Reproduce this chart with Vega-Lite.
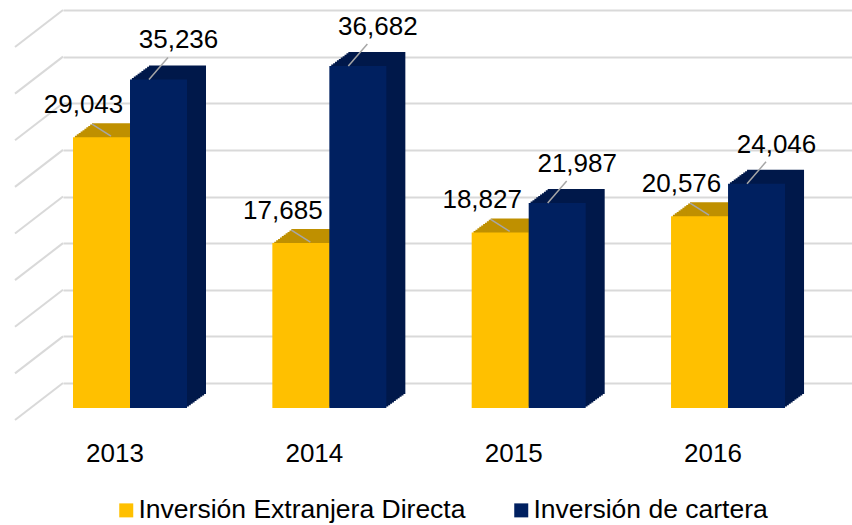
{
  "$schema": "https://vega.github.io/schema/vega-lite/v6.json",
  "width": 789,
  "height": 373,
  "autosize": {"type": "none"},
  "padding": {"left": 63, "top": 10, "right": 0, "bottom": 142},
  "background": "#ffffff",
  "config": {"view": {"stroke": null}, "font": "Liberation Sans"},
  "resolve": {"scale": {"xOffset": "independent"}},
  "data": {
    "values": [
      {"year": "2013", "series": "Inversión Extranjera Directa", "value": 29043},
      {"year": "2013", "series": "Inversión de cartera", "value": 35236},
      {"year": "2014", "series": "Inversión Extranjera Directa", "value": 17685},
      {"year": "2014", "series": "Inversión de cartera", "value": 36682},
      {"year": "2015", "series": "Inversión Extranjera Directa", "value": 18827},
      {"year": "2015", "series": "Inversión de cartera", "value": 21987},
      {"year": "2016", "series": "Inversión Extranjera Directa", "value": 20576},
      {"year": "2016", "series": "Inversión de cartera", "value": 24046}
    ]
  },
  "layer": [
    {
      "data": {"values": [{"g": 0}, {"g": 5000}, {"g": 10000}, {"g": 15000}, {"g": 20000}, {"g": 25000}, {"g": 30000}, {"g": 35000}, {"g": 40000}]},
      "mark": {"type": "rule", "color": "#D9D9D9", "strokeWidth": 2, "y2Offset": 37},
      "encoding": {
        "y": {"field": "g", "type": "quantitative", "title": null, "scale": {"domain": [0, 40000], "nice": false},
              "axis": {"title": null, "labels": false, "ticks": false, "domain": false, "grid": true, "gridColor": "#D9D9D9", "gridWidth": 2, "values": [0, 5000, 10000, 15000, 20000, 25000, 30000, 35000, 40000]}},
        "y2": {"field": "g"},
        "x": {"value": 0},
        "x2": {"value": -48}
      }
    },
    {
      "mark": {"type": "bar", "yOffset": 23.6, "y2Offset": 23.6},
      "encoding": {
        "x": {"field": "year", "type": "nominal", "title": null, "scale": {"domain": ["2013", "2014", "2015", "2016"], "paddingInner": 0.428, "paddingOuter": 0.193, "align": 0.13}},
        "xOffset": {"field": "series", "type": "nominal", "scale": {"domain": ["Inversión Extranjera Directa", "Inversión de cartera"], "range": [1.9, 115.9]}},
        "y": {"field": "value", "type": "quantitative", "title": null},
        "color": {"condition": {"test": "datum.series === 'Inversión Extranjera Directa'", "value": "#BF9000"}, "value": "#00184A"}
      }
    },
    {
      "mark": {"type": "bar", "yOffset": 22.2, "y2Offset": 22.2},
      "encoding": {
        "x": {"field": "year", "type": "nominal", "title": null},
        "xOffset": {"field": "series", "type": "nominal", "scale": {"domain": ["Inversión Extranjera Directa", "Inversión de cartera"], "range": [3.8, 117.8]}},
        "y": {"field": "value", "type": "quantitative", "title": null},
        "color": {"condition": {"test": "datum.series === 'Inversión Extranjera Directa'", "value": "#BF9000"}, "value": "#00184A"}
      }
    },
    {
      "mark": {"type": "bar", "yOffset": 20.8, "y2Offset": 20.8},
      "encoding": {
        "x": {"field": "year", "type": "nominal", "title": null},
        "xOffset": {"field": "series", "type": "nominal", "scale": {"domain": ["Inversión Extranjera Directa", "Inversión de cartera"], "range": [5.7, 119.7]}},
        "y": {"field": "value", "type": "quantitative", "title": null},
        "color": {"condition": {"test": "datum.series === 'Inversión Extranjera Directa'", "value": "#BF9000"}, "value": "#00184A"}
      }
    },
    {
      "mark": {"type": "bar", "yOffset": 19.4, "y2Offset": 19.4},
      "encoding": {
        "x": {"field": "year", "type": "nominal", "title": null},
        "xOffset": {"field": "series", "type": "nominal", "scale": {"domain": ["Inversión Extranjera Directa", "Inversión de cartera"], "range": [7.6, 121.6]}},
        "y": {"field": "value", "type": "quantitative", "title": null},
        "color": {"condition": {"test": "datum.series === 'Inversión Extranjera Directa'", "value": "#BF9000"}, "value": "#00184A"}
      }
    },
    {
      "mark": {"type": "bar", "yOffset": 18, "y2Offset": 18},
      "encoding": {
        "x": {"field": "year", "type": "nominal", "title": null},
        "xOffset": {"field": "series", "type": "nominal", "scale": {"domain": ["Inversión Extranjera Directa", "Inversión de cartera"], "range": [9.5, 123.5]}},
        "y": {"field": "value", "type": "quantitative", "title": null},
        "color": {"condition": {"test": "datum.series === 'Inversión Extranjera Directa'", "value": "#BF9000"}, "value": "#00184A"}
      }
    },
    {
      "mark": {"type": "bar", "yOffset": 16.6, "y2Offset": 16.6},
      "encoding": {
        "x": {"field": "year", "type": "nominal", "title": null},
        "xOffset": {"field": "series", "type": "nominal", "scale": {"domain": ["Inversión Extranjera Directa", "Inversión de cartera"], "range": [11.4, 125.4]}},
        "y": {"field": "value", "type": "quantitative", "title": null},
        "color": {"condition": {"test": "datum.series === 'Inversión Extranjera Directa'", "value": "#BF9000"}, "value": "#00184A"}
      }
    },
    {
      "mark": {"type": "bar", "yOffset": 15.2, "y2Offset": 15.2},
      "encoding": {
        "x": {"field": "year", "type": "nominal", "title": null},
        "xOffset": {"field": "series", "type": "nominal", "scale": {"domain": ["Inversión Extranjera Directa", "Inversión de cartera"], "range": [13.3, 127.3]}},
        "y": {"field": "value", "type": "quantitative", "title": null},
        "color": {"condition": {"test": "datum.series === 'Inversión Extranjera Directa'", "value": "#BF9000"}, "value": "#00184A"}
      }
    },
    {
      "mark": {"type": "bar", "yOffset": 13.8, "y2Offset": 13.8},
      "encoding": {
        "x": {"field": "year", "type": "nominal", "title": null},
        "xOffset": {"field": "series", "type": "nominal", "scale": {"domain": ["Inversión Extranjera Directa", "Inversión de cartera"], "range": [15.2, 129.2]}},
        "y": {"field": "value", "type": "quantitative", "title": null},
        "color": {"condition": {"test": "datum.series === 'Inversión Extranjera Directa'", "value": "#BF9000"}, "value": "#00184A"}
      }
    },
    {
      "mark": {"type": "bar", "yOffset": 12.4, "y2Offset": 12.4},
      "encoding": {
        "x": {"field": "year", "type": "nominal", "title": null},
        "xOffset": {"field": "series", "type": "nominal", "scale": {"domain": ["Inversión Extranjera Directa", "Inversión de cartera"], "range": [17.1, 131.1]}},
        "y": {"field": "value", "type": "quantitative", "title": null},
        "color": {"condition": {"test": "datum.series === 'Inversión Extranjera Directa'", "value": "#BF9000"}, "value": "#00184A"}
      }
    },
    {
      "mark": {"type": "bar", "yOffset": 11, "y2Offset": 11},
      "encoding": {
        "x": {"field": "year", "type": "nominal", "title": null},
        "xOffset": {"field": "series", "type": "nominal", "scale": {"domain": ["Inversión Extranjera Directa", "Inversión de cartera"], "range": [19, 133]}},
        "y": {"field": "value", "type": "quantitative", "title": null},
        "color": {"condition": {"test": "datum.series === 'Inversión Extranjera Directa'", "value": "#BF9000"}, "value": "#00184A"}
      }
    },
    {
      "mark": {"type": "bar", "yOffset": 25, "y2Offset": 25},
      "encoding": {
        "x": {"field": "year", "type": "nominal", "title": null,
              "axis": {"title": null, "domain": false, "ticks": false, "tickSize": 0, "grid": false, "labelPadding": 78, "labelBaseline": "alphabetic", "labelAlign": "center", "labelFontSize": 26, "labelFont": "Liberation Sans", "labelColor": "#000000", "labelOffset": -15, "labelAngle": 0}},
        "xOffset": {"field": "series", "type": "nominal", "scale": {"domain": ["Inversión Extranjera Directa", "Inversión de cartera"], "range": [0, 114]}},
        "y": {"field": "value", "type": "quantitative", "title": null},
        "color": {"field": "series", "type": "nominal",
                  "scale": {"domain": ["Inversión Extranjera Directa", "Inversión de cartera"], "range": ["#FFC000", "#002060"]},
                  "legend": {"title": null, "orient": "none", "legendX": 50, "legendY": 487, "direction": "horizontal", "symbolType": "square", "symbolSize": 196, "symbolStrokeWidth": 0, "labelFontSize": 26.5, "labelFont": "Liberation Sans", "labelColor": "#000000", "labelLimit": 500, "labelOffset": -1, "columnPadding": 42, "padding": 0}}
      }
    },
    {
      "transform": [{"filter": "datum.series === 'Inversión Extranjera Directa'"}],
      "mark": {"type": "point", "shape": "M-1,-0.63L1,0.63", "filled": false, "stroke": "#A6A6A6", "strokeWidth": 1.5, "size": 361, "opacity": 1, "xOffset": -9.5, "yOffset": 18},
      "encoding": {
        "x": {"field": "year", "type": "nominal", "title": null},
        "xOffset": {"field": "series", "type": "nominal", "scale": {"domain": ["Inversión Extranjera Directa", "Inversión de cartera"], "range": [0, 114]}},
        "y": {"field": "value", "type": "quantitative", "title": null}
      }
    },
    {
      "transform": [{"filter": "datum.series === 'Inversión de cartera'"}],
      "mark": {"type": "point", "shape": "M1,-1.16L-1,1.16", "filled": false, "stroke": "#A6A6A6", "strokeWidth": 1.5, "size": 361, "opacity": 1, "xOffset": 9.5, "yOffset": 14},
      "encoding": {
        "x": {"field": "year", "type": "nominal", "title": null},
        "xOffset": {"field": "series", "type": "nominal", "scale": {"domain": ["Inversión Extranjera Directa", "Inversión de cartera"], "range": [0, 114]}},
        "y": {"field": "value", "type": "quantitative", "title": null}
      }
    },
    {
      "transform": [{"filter": "datum.series === 'Inversión Extranjera Directa'"}],
      "mark": {"type": "text", "dx": -18, "dy": 1, "baseline": "alphabetic", "align": "center", "fontSize": 26, "font": "Liberation Sans", "fill": "#000000"},
      "encoding": {
        "x": {"field": "year", "type": "nominal", "title": null},
        "xOffset": {"field": "series", "type": "nominal", "scale": {"domain": ["Inversión Extranjera Directa", "Inversión de cartera"], "range": [0, 114]}},
        "y": {"field": "value", "type": "quantitative", "title": null},
        "text": {"field": "value", "type": "quantitative", "format": ","}
      }
    },
    {
      "transform": [{"filter": "datum.series === 'Inversión de cartera'"}],
      "mark": {"type": "text", "dx": 20, "dy": -6, "baseline": "alphabetic", "align": "center", "fontSize": 26, "font": "Liberation Sans", "fill": "#000000"},
      "encoding": {
        "x": {"field": "year", "type": "nominal", "title": null},
        "xOffset": {"field": "series", "type": "nominal", "scale": {"domain": ["Inversión Extranjera Directa", "Inversión de cartera"], "range": [0, 114]}},
        "y": {"field": "value", "type": "quantitative", "title": null},
        "text": {"field": "value", "type": "quantitative", "format": ","}
      }
    }
  ]
}
